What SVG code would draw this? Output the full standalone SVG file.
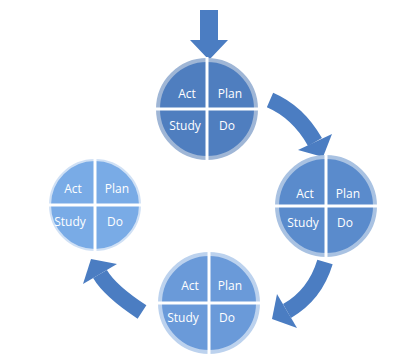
<svg xmlns="http://www.w3.org/2000/svg" width="399" height="363" viewBox="0 0 399 363">
<style>
.lbl{font-family:"Open Sans","Liberation Sans",sans-serif;font-size:12px;fill:#ffffff;text-anchor:middle}
.div{stroke:#ffffff;stroke-width:3}
.body{fill:none;stroke:#4b7dc2;stroke-width:16}
.head{fill:#4b7dc2}
</style>
<rect width="399" height="363" fill="#ffffff"/>
<g id="connectors">
  <polygon class="head" points="200,10 218,10 218,40 228,40 209,60 190,40 200,40"/>
  <path class="body" d="M270,100 Q298,112 315,142"/>
  <polygon class="head" points="298,150 332,134 323,157"/>
  <path class="body" d="M325,262 Q315,295 287,311"/>
  <polygon class="head" points="277,294 297,328 272,319"/>
  <path class="body" d="M142,312 Q110,291 100,274"/>
  <polygon class="head" points="117,264 83,284 91,259"/>
</g>
<g id="cycle1" transform="translate(207,109)">
  <circle r="49" fill="#4f7ebf" stroke="#9fb6d6" stroke-width="4"/>
  <line class="div" x1="0" y1="-52" x2="0" y2="52"/>
  <line class="div" x1="-52" y1="0" x2="52" y2="0"/>
  <text class="lbl" x="-20" y="-11">Act</text>
  <text class="lbl" x="23" y="-11">Plan</text>
  <text class="lbl" x="-22" y="21">Study</text>
  <text class="lbl" x="20" y="21">Do</text>
</g>
<g id="cycle2" transform="translate(326,206)">
  <circle r="49" fill="#5a8bcc" stroke="#a9c2e2" stroke-width="4"/>
  <line class="div" x1="0" y1="-52" x2="0" y2="52"/>
  <line class="div" x1="-52" y1="0" x2="52" y2="0"/>
  <text class="lbl" x="-21" y="-8">Act</text>
  <text class="lbl" x="22" y="-8">Plan</text>
  <text class="lbl" x="-23" y="21">Study</text>
  <text class="lbl" x="19" y="21">Do</text>
</g>
<g id="cycle3" transform="translate(209,303)">
  <circle r="49" fill="#6a9ad9" stroke="#bcd2ee" stroke-width="4"/>
  <line class="div" x1="0" y1="-52" x2="0" y2="52"/>
  <line class="div" x1="-52" y1="0" x2="52" y2="0"/>
  <text class="lbl" x="-19" y="-13">Act</text>
  <text class="lbl" x="21" y="-13">Plan</text>
  <text class="lbl" x="-26" y="19">Study</text>
  <text class="lbl" x="18" y="19">Do</text>
</g>
<g id="cycle4" transform="translate(95,205)">
  <circle r="45" fill="#79abe6" stroke="#cfe0f5" stroke-width="2"/>
  <line class="div" x1="0" y1="-47" x2="0" y2="47"/>
  <line class="div" x1="-47" y1="0" x2="47" y2="0"/>
  <text class="lbl" x="-22" y="-12">Act</text>
  <text class="lbl" x="22" y="-12">Plan</text>
  <text class="lbl" x="-25" y="21">Study</text>
  <text class="lbl" x="20" y="21">Do</text>
</g>
</svg>
